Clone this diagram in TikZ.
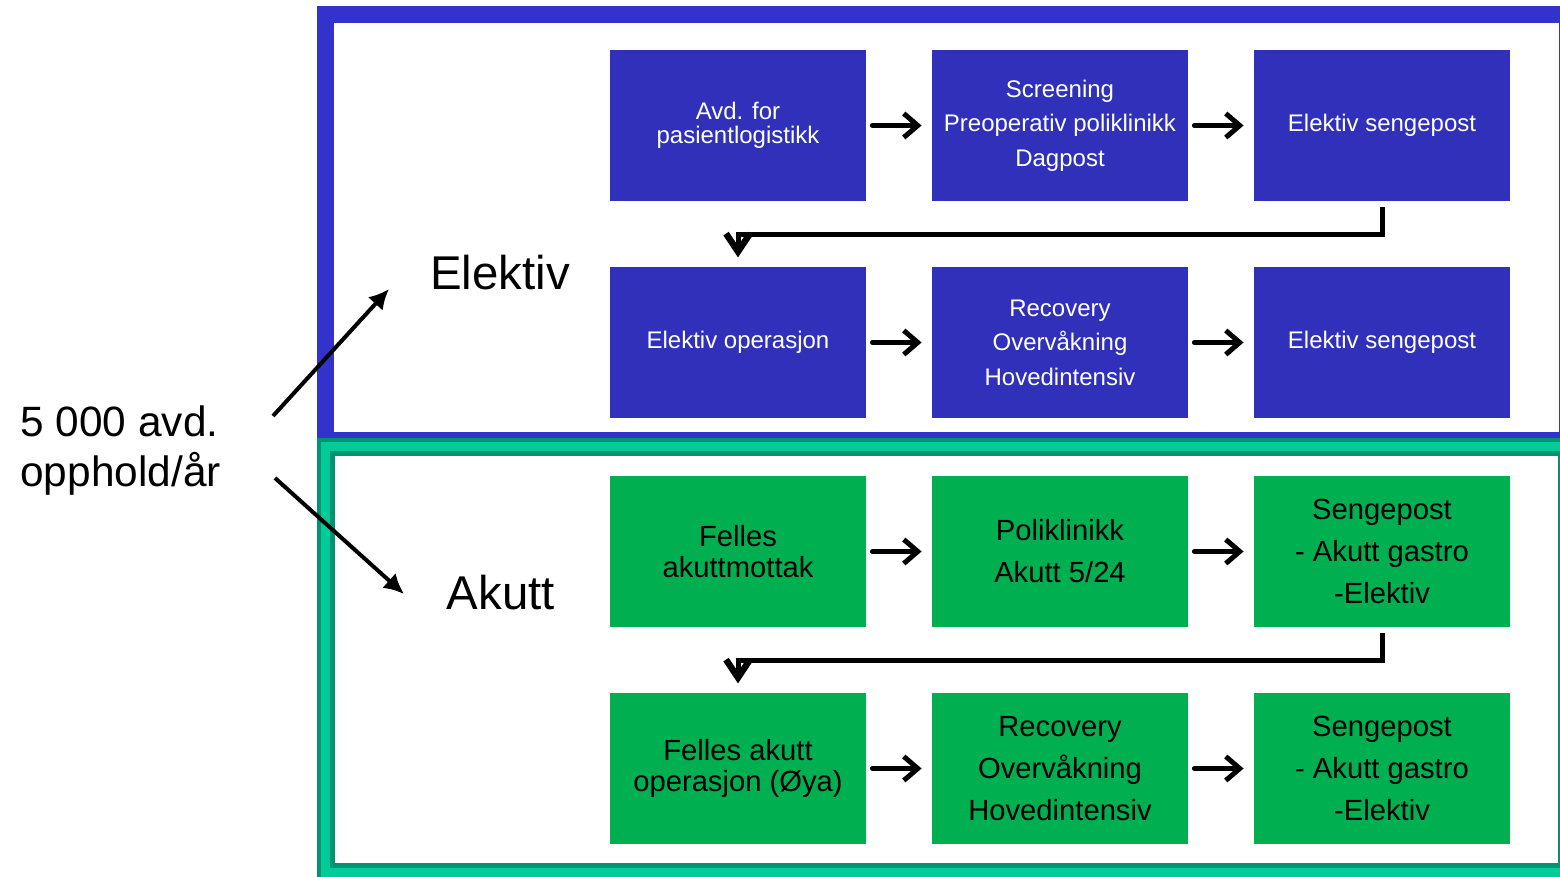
\documentclass[tikz,border=0pt]{standalone}
\usepackage{fontspec}
\setmainfont{Liberation Sans}
\usetikzlibrary{arrows.meta}
\definecolor{frameblue}{HTML}{3333CC}
\definecolor{boxblue}{HTML}{3030BB}
\definecolor{boxgreen}{HTML}{00B050}
\definecolor{framedark}{HTML}{009373}
\definecolor{framelight}{HTML}{00CC99}
\tikzset{
  bluebox/.style={fill=boxblue, text=white, minimum width=128pt, minimum height=75.5pt,
    inner sep=0pt, align=center, font=\fontsize{12}{17.25}\selectfont},
  bluetight/.style={bluebox, font=\fontsize{12}{12}\selectfont},
  greenbox/.style={fill=boxgreen, text=black, minimum width=128pt, minimum height=75.5pt,
    inner sep=0pt, align=center, font=\fontsize{14.6}{21}\selectfont},
  greentight/.style={greenbox, font=\fontsize{14.6}{15.2}\selectfont},
  flowarrow/.style={line width=2.5pt, line cap=round,
    -{Straight Barb[length=7pt, width=12pt, line width=2.5pt]}},
  turnarrow/.style={line width=2.5pt,
    -{Straight Barb[length=9pt, width=12pt, line width=3.2pt]}},
  splitarrow/.style={line width=2pt, -{Latex[length=10pt, width=10pt]}},
  biglabel/.style={font=\fontsize{23.7}{28}\selectfont, inner sep=0pt}
}
\begin{document}
\begin{tikzpicture}[x=0.5pt, y=-0.5pt]
\useasboundingbox (0,0) rectangle (1560,877);
\clip (0,0) rectangle (1560,877);

% section frames
\draw[frameblue, line width=8.5pt] (325.5,15) rectangle (1567,441);
\draw[framedark, line width=9pt] (325.5,447) rectangle (1567,872);
\draw[framelight, line width=4.5pt] (325.5,447) rectangle (1567,872);

% elective flow
\node[bluetight] (e1) at (738,125.5) {Avd. for\\pasientlogistikk};
\node[bluebox] (e2) at (1060,125.5) {Screening\\Preoperativ poliklinikk\\Dagpost};
\node[bluebox] (e3) at (1382,125.5) {Elektiv sengepost};
\node[bluebox] (e4) at (738,342.5) {Elektiv operasjon};
\node[bluebox] (e5) at (1060,342.5) {Recovery\\Overvåkning\\Hovedintensiv};
\node[bluebox] (e6) at (1382,342.5) {Elektiv sengepost};

% acute flow
\node[greentight] (a1) at (738,551.5) {Felles\\akuttmottak};
\node[greenbox] (a2) at (1060,551.5) {Poliklinikk\\Akutt 5/24};
\node[greenbox] (a3) at (1382,551.5) {Sengepost\\- Akutt gastro\\-Elektiv};
\node[greentight] (a4) at (738,768.5) {Felles akutt\\operasjon (Øya)};
\node[greenbox] (a5) at (1060,768.5) {Recovery\\Overvåkning\\Hovedintensiv};
\node[greenbox] (a6) at (1382,768.5) {Sengepost\\- Akutt gastro\\-Elektiv};

% labels
\node[biglabel] (lel) at (500,273) {Elektiv};
\node[biglabel] (lak) at (501,593) {Akutt};
\node[anchor=west, align=left, inner sep=0pt, font=\fontsize{21.2}{25}\selectfont]
  (total) at (20,451) {5 000 avd.\\opphold/år};

% arrows within rows
\foreach \a/\b in {e1/e2, e2/e3, e4/e5, e5/e6, a1/a2, a2/a3, a4/a5, a5/a6}
  \draw[flowarrow] ([xshift=3pt]\a.east) -- ([xshift=-5pt]\b.west);

% row changes
\draw[turnarrow] ([yshift=-3pt]e3.south) |- ([yshift=-16.5pt]e1.south) -- ([yshift=-28pt]e1.south);
\draw[turnarrow] ([yshift=-3pt]a3.south) |- ([yshift=-16.5pt]a1.south) -- ([yshift=-28pt]a1.south);

% split into elective and acute
\coordinate (s1) at (273,416);
\coordinate (t1) at (389,289);
\coordinate (s2) at (275,478);
\coordinate (t2) at (404,594);
\draw[splitarrow] (s1) -- (t1);
\draw[splitarrow] (s2) -- (t2);
\end{tikzpicture}
\end{document}
